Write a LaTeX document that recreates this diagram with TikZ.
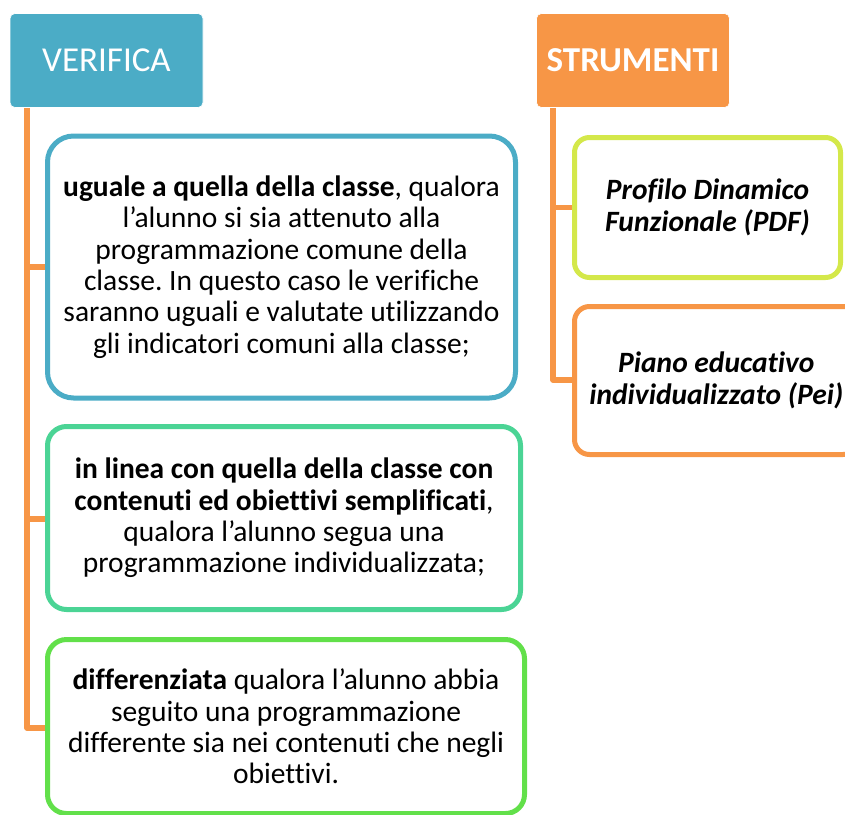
\documentclass[tikz,border=0pt]{standalone}
\usepackage{fontspec}
\setmainfont{Carlito}[Ligatures={NoCommon,NoContextual}]
\frenchspacing
\definecolor{cblue}{HTML}{4BACC6}
\definecolor{corange}{HTML}{F79646}
\definecolor{cteal}{HTML}{4BD495}
\definecolor{cgreen}{HTML}{62E04A}
\definecolor{clime}{HTML}{D4E84A}
\tikzset{
  head/.style={rectangle, rounded corners=5pt, draw=white, line width=0.6pt, inner sep=0pt,
    minimum width=193pt, minimum height=94pt, text=white,
    font=\fontsize{35}{40}\selectfont},
  box/.style={rectangle, draw=#1, fill=white, line width=5pt, inner sep=0pt, align=center,
    font=\fontsize{29.5}{31.3}\selectfont},
  conn/.style={draw=corange, line width=5.5pt, line join=round}
}
\begin{document}
\begin{tikzpicture}[x=1pt,y=-1pt]
\useasboundingbox (0,0) rectangle (845,814);
\clip (0,0) rectangle (845,814);
% headings
\node[head, fill=cblue] (ver) at (106.5,60.5) {VERIFICA};
\node[head, fill=corange] (str) at (633,60.5) {\textbf{STRUMENTI}};
% connectors
\coordinate (lt) at (27,108);
\coordinate (rt) at (553,108);
\draw[conn] (lt) -- (27,728) -- (46,728);
\draw[conn] (27,267) -- (46,267);
\draw[conn] (27,519) -- (46,519);
\draw[conn] (rt) -- (553,380) -- (573,380);
\draw[conn] (553,207.5) -- (573,207.5);
% left column
\node[box=cblue, rounded corners=26pt, minimum width=468pt, minimum height=262pt] (b1) at (281.5,267)
 {\textbf{uguale a quella della classe}, qualora\\
  l’alunno si sia attenuto alla\\
  programmazione comune della\\
  classe. In questo caso le verifiche\\
  saranno uguali e valutate utilizzando\\
  gli indicatori comuni alla classe;};
\node[box=cteal, rounded corners=19pt, minimum width=473pt, minimum height=183pt] (b2) at (284,518)
 {\textbf{in linea con quella della classe con}\\
  \textbf{contenuti ed obiettivi semplificati},\\
  qualora l’alunno segua una\\
  programmazione individualizzata;};
\node[box=cgreen, rounded corners=19pt, minimum width=477pt, minimum height=174pt] (b3) at (286,726.5)
 {\textbf{differenziata} qualora l’alunno abbia\\
  seguito una programmazione\\
  differente sia nei contenuti che negli\\
  obiettivi.};
% right column
\node[box=clime, rounded corners=15pt, minimum width=266pt, minimum height=140pt] (ba) at (707.5,207.5)
 {\textbf{\itshape Profilo Dinamico}\\ \textbf{\itshape Funzionale (PDF)}};
\node[box=corange, rounded corners=15pt, minimum width=283.5pt, minimum height=148pt] (bb) at (716.25,380.5)
 {\textbf{\itshape Piano educativo}\\ \textbf{\itshape individualizzato (Pei)}};
\end{tikzpicture}
\end{document}
